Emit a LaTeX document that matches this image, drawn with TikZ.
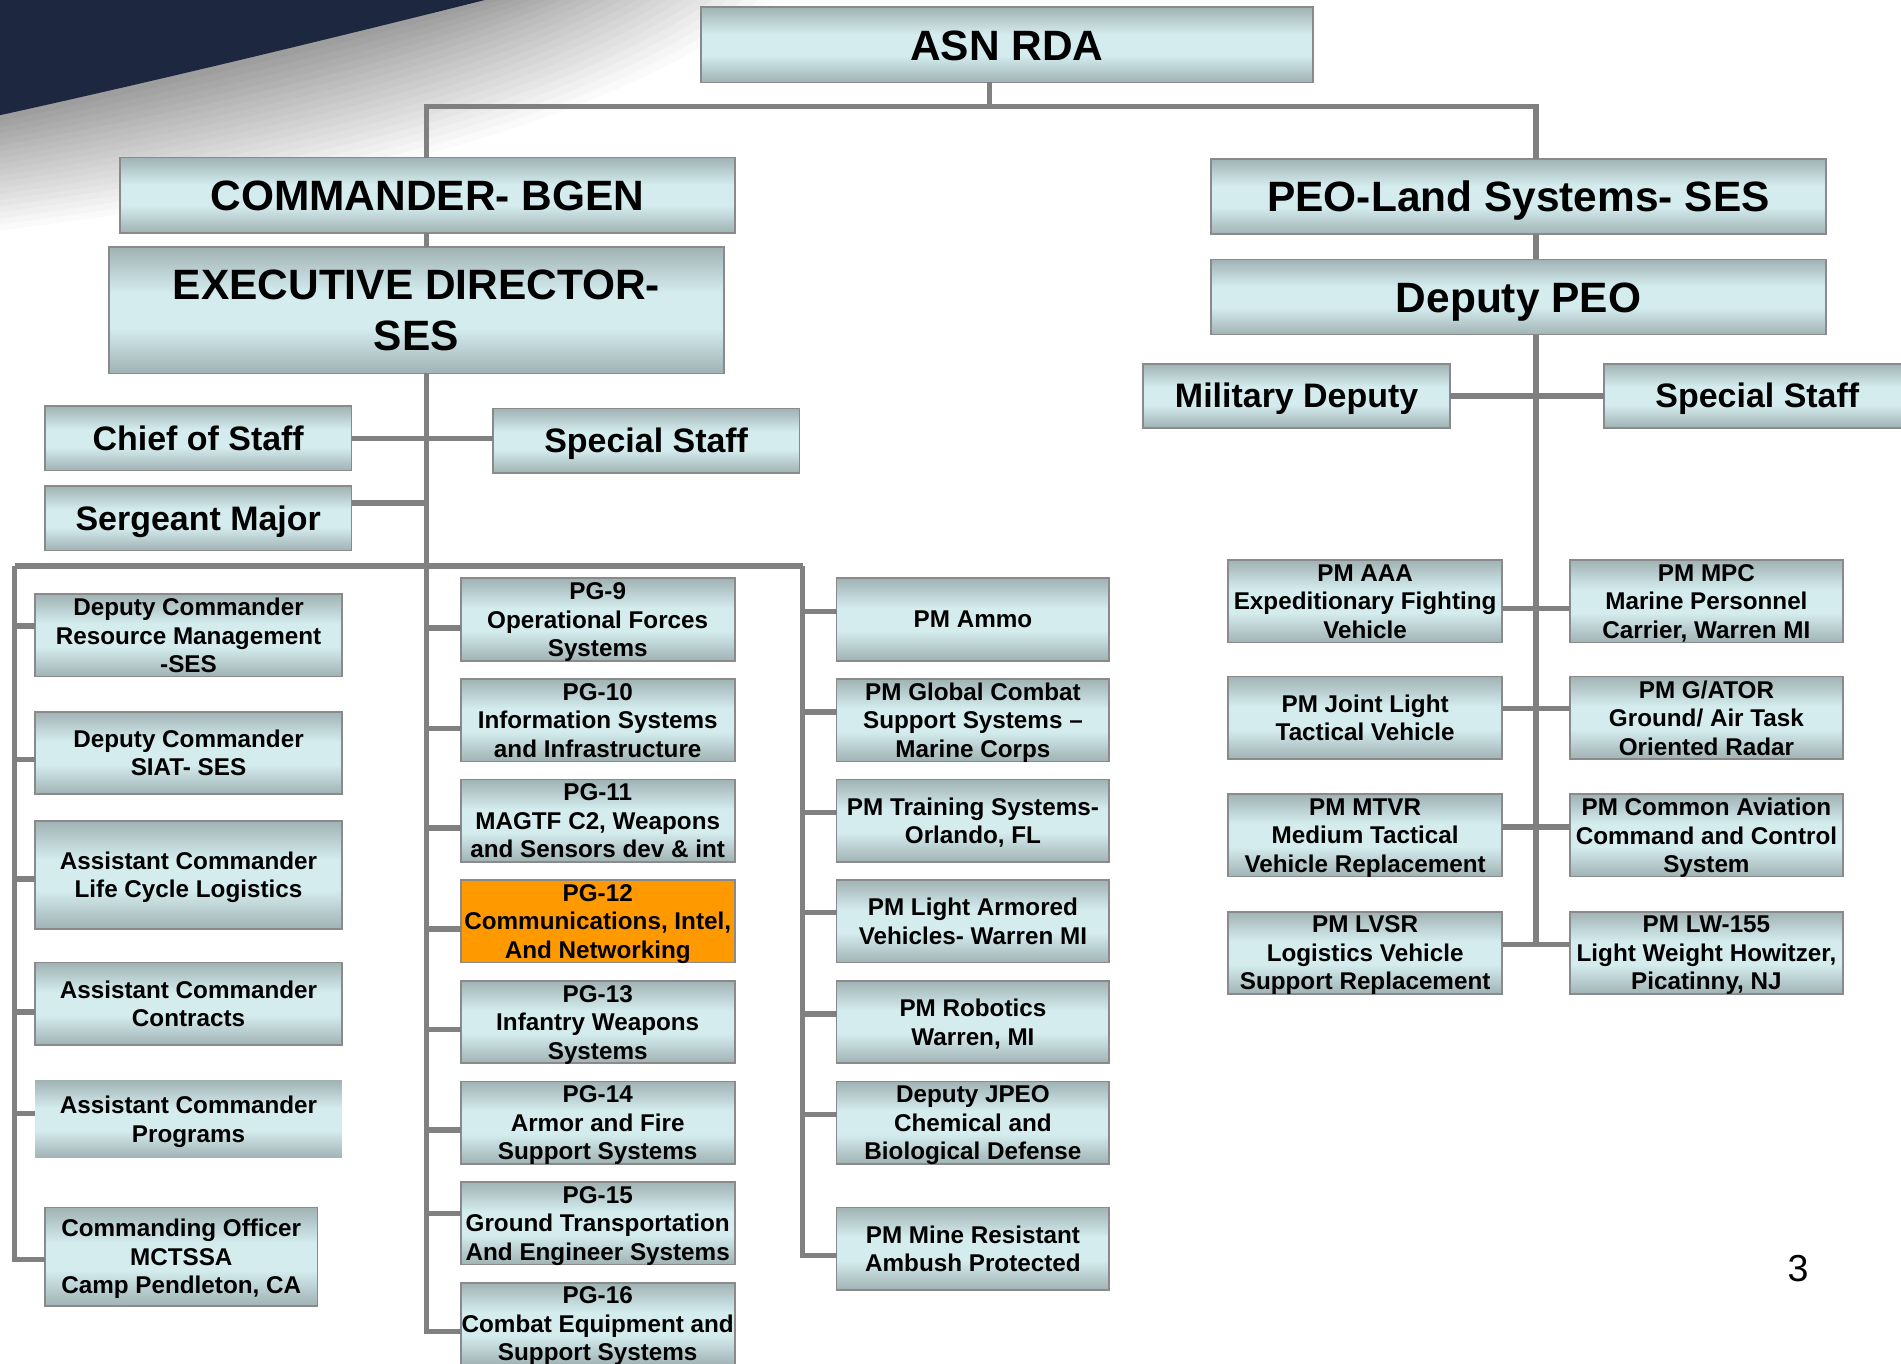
\documentclass[tikz,border=0pt]{standalone}
\usepackage{fontspec}
\setmainfont{Liberation Sans}
\usetikzlibrary{calc}

\definecolor{boxline}{RGB}{138,138,138}
\definecolor{boxedge}{RGB}{160,178,180}
\definecolor{boxmid}{RGB}{212,236,238}
\definecolor{linkgray}{RGB}{128,128,128}
\definecolor{pgorange}{RGB}{255,153,0}
\definecolor{navy}{RGB}{29,40,64}

\pgfdeclareverticalshading{boxshade}{100bp}{color(0bp)=(boxedge); color(25bp)=(boxedge); color(43bp)=(boxmid); color(57bp)=(boxmid); color(75bp)=(boxedge); color(100bp)=(boxedge)}

\newcommand\titlefont{\bfseries\fontsize{35}{42}\selectfont}
\newcommand\staffont{\bfseries\fontsize{28}{33}\selectfont}
\newcommand\unitfont{\bfseries\fontsize{20}{23.5}\selectfont}
% last line of a box: no depth, so the lines sit as in the chart
\newcommand\dropdepth[1]{\raisebox{0pt}[\height][0pt]{#1}}

\tikzset{
  orgbox/.style={draw=boxline, line width=1.4pt, align=center, inner sep=0pt, outer sep=0pt},
  tealbox/.style={orgbox, shade, shading=boxshade},
  titlebox/.style={tealbox, minimum width=507pt, minimum height=62pt, font=\titlefont, text height=25pt, text depth=0pt},
  staffbox/.style={tealbox, minimum width=253pt, minimum height=53pt, font=\staffont, text height=20pt, text depth=0pt},
  unitbox/.style={tealbox, minimum width=226pt, minimum height=68pt, font=\unitfont},
  sidebox/.style={unitbox, minimum width=253pt},
  hotbox/.style={orgbox, fill=pgorange, minimum width=226pt, minimum height=68pt, font=\unitfont},
  link/.style={draw=linkgray, line width=4.5pt}
}

\begin{document}
\begin{tikzpicture}[x=1pt, y=-1pt]
        \useasboundingbox (0,0) rectangle (1568,1125);
        \fill[white] (0,0) rectangle (1568,1125);

        % swoosh in the corner
        \foreach \off [evaluate=\off as \gr using {40*(1-\off/100)}] in {100,95,...,0}
            \fill[black!\gr] (0,0) -- ({400+2.5*\off},0) .. controls ({300+2*\off},{25+0.9*\off}) and ({150+1.2*\off},{62+\off}) .. (0,{95+\off}) -- cycle;
        \fill[navy] (0,0) -- (400,0) .. controls (300,25) and (150,62) .. (0,95) -- cycle;

        % top of the chart
        \node[titlebox, minimum width=505pt] (asn) at (830.5,37) {ASN RDA};
        \node[titlebox] (cmd) at (352.5,161) {COMMANDER- BGEN};
        \node[tealbox, minimum width=507pt, minimum height=104pt, font=\titlefont] (exec) at (343.5,256) {EXECUTIVE DIRECTOR-\\SES};
        \node[titlebox] (peo) at (1252.5,162) {PEO-Land Systems- SES};
        \node[titlebox] (dpeo) at (1252.5,245) {Deputy PEO};

        \node[staffbox] (chief) at (163.5,361.5) {Chief of Staff};
        \node[staffbox] (spstaffL) at (533,363.5) {Special Staff};
        \node[staffbox] (sgt) at (163.5,427.5) {Sergeant Major};
        \node[staffbox] (mildep) at (1069.5,326.5) {Military Deputy};
        \node[staffbox] (spstaffR) at (1449.5,326.5) {Special Staff};

        % left column
        \node[sidebox] (dcrm) at (155.5,524) {Deputy Commander\\Resource Management\\\dropdepth{-SES}};
        \node[sidebox] (dcsiat) at (155.5,621) {Deputy Commander\\\dropdepth{SIAT- SES}};
        \node[sidebox, minimum height=89pt] (aclcl) at (155.5,721.5) {Assistant Commander\\\dropdepth{Life Cycle Logistics}};
        \node[sidebox] (accon) at (155.5,828) {Assistant Commander\\\dropdepth{Contracts}};
        \node[sidebox, draw=none, minimum height=64pt] (acprog) at (155.5,923) {Assistant Commander\\\dropdepth{Programs}};
        \node[sidebox, minimum width=225pt, minimum height=81pt] (comoff) at (149.5,1036.5) {Commanding Officer\\MCTSSA\\\dropdepth{Camp Pendleton, CA}};

        % program groups
        \node[unitbox] (pg9) at (493,511) {PG-9\\Operational Forces\\\dropdepth{Systems}};
        \node[unitbox] (pg10) at (493,594) {PG-10\\Information Systems\\\dropdepth{and Infrastructure}};
        \node[unitbox] (pg11) at (493,677) {PG-11\\MAGTF C2, Weapons\\\dropdepth{and Sensors dev \& int}};
        \node[hotbox] (pg12) at (493,760) {PG-12\\Communications, Intel,\\\dropdepth{And Networking}};
        \node[unitbox] (pg13) at (493,843) {PG-13\\Infantry Weapons\\\dropdepth{Systems}};
        \node[unitbox] (pg14) at (493,926) {PG-14\\Armor and Fire\\\dropdepth{Support Systems}};
        \node[unitbox] (pg15) at (493,1009) {PG-15\\Ground Transportation\\\dropdepth{And Engineer Systems}};
        \node[unitbox] (pg16) at (493,1092) {PG-16\\Combat Equipment and\\\dropdepth{Support Systems}};

        % program managers
        \node[unitbox, minimum width=225pt] (pmammo) at (802.5,511) {PM Ammo};
        \node[unitbox, minimum width=225pt] (pmgcss) at (802.5,594) {PM Global Combat\\Support Systems --\\\dropdepth{Marine Corps}};
        \node[unitbox, minimum width=225pt] (pmtrain) at (802.5,677) {PM Training Systems-\\\dropdepth{Orlando, FL}};
        \node[unitbox, minimum width=225pt] (pmlav) at (802.5,760) {PM Light Armored\\\dropdepth{Vehicles- Warren MI}};
        \node[unitbox, minimum width=225pt] (pmrob) at (802.5,843) {PM Robotics\\\dropdepth{Warren, MI}};
        \node[unitbox, minimum width=225pt] (jpeo) at (802.5,926) {Deputy JPEO\\Chemical and\\\dropdepth{Biological Defense}};
        \node[unitbox, minimum width=225pt] (mrap) at (802.5,1030) {PM Mine Resistant\\\dropdepth{Ambush Protected}};

        % PEO land systems
        \node[unitbox] (pmaaa) at (1126,496) {PM AAA\\Expeditionary Fighting\\\dropdepth{Vehicle}};
        \node[unitbox, minimum width=225pt] (pmmpc) at (1407.5,496) {PM MPC\\Marine Personnel\\\dropdepth{Carrier, Warren MI}};
        \node[unitbox] (jltv) at (1126,592) {PM Joint Light\\\dropdepth{Tactical Vehicle}};
        \node[unitbox, minimum width=225pt] (gator) at (1407.5,592) {PM G/ATOR\\Ground/ Air Task\\\dropdepth{Oriented Radar}};
        \node[unitbox] (mtvr) at (1126,689) {PM MTVR\\Medium Tactical\\\dropdepth{Vehicle Replacement}};
        \node[unitbox, minimum width=225pt] (cactwo) at (1407.5,689) {PM Common Aviation\\Command and Control\\\dropdepth{System}};
        \node[unitbox] (lvsr) at (1126,786) {PM LVSR\\Logistics Vehicle\\\dropdepth{Support Replacement}};
        \node[unitbox, minimum width=225pt] (lwgun) at (1407.5,786) {PM LW-155\\Light Weight Howitzer,\\\dropdepth{Picatinny, NJ}};

        \node[font=\fontsize{31}{36}\selectfont] (pagenum) at (1483,1046) {3};

        % connectors
        \coordinate (asnc) at (816,88);
        \coordinate (ltop) at (352,88);
        \coordinate (rtop) at (1267,88);
        \coordinate (lbot) at (352,1098);
        \coordinate (rbot) at (1267,779);
        \coordinate (lbus) at (12,467);
        \coordinate (mbus) at (662,467);
        \coordinate (sgtc) at ($(sgt.north east)!.26!(sgt.south east)$);

        \draw[link] (asnc) -- (asn.south -| asnc);
        \draw[link] (cmd.north -| ltop) -- (ltop) -- (rtop) -- (peo.north -| rtop);
        \draw[link] (cmd.south -| ltop) -- (exec.north -| ltop);
        \draw[link] (exec.south -| ltop) -- (lbot);
        \draw[link] (peo.south -| rtop) -- (dpeo.north -| rtop);
        \draw[link] (dpeo.south -| rtop) -- (rbot);

        \draw[link] (chief.east) -- (chief.east -| spstaffL.west);
        \draw[link] (sgtc) -- (sgtc -| ltop);
        \draw[link] (mildep.east) -- (spstaffR.west);

        \draw[link] (lbus) -- (mbus);
        \draw[link] (lbus) |- ($(dcrm.north west)!.39!(dcrm.south west)$);
        \draw[link] (lbus) |- ($(dcsiat.north west)!.58!(dcsiat.south west)$);
        \draw[link] (lbus) |- ($(aclcl.north west)!.54!(aclcl.south west)$);
        \draw[link] (lbus) |- ($(accon.north west)!.6!(accon.south west)$);
        \draw[link] (lbus) |- ($(acprog.north west)!.43!(acprog.south west)$);
        \draw[link] (lbus) |- ($(comoff.north west)!.53!(comoff.south west)$);

        \draw[link] (lbot) |- ($(pg9.north west)!.6!(pg9.south west)$);
        \draw[link] (lbot) |- ($(pg10.north west)!.6!(pg10.south west)$);
        \draw[link] (lbot) |- ($(pg11.north west)!.59!(pg11.south west)$);
        \draw[link] (lbot) |- ($(pg12.north west)!.59!(pg12.south west)$);
        \draw[link] (lbot) |- ($(pg13.north west)!.59!(pg13.south west)$);
        \draw[link] (lbot) |- ($(pg14.north west)!.59!(pg14.south west)$);
        \draw[link] (lbot) |- ($(pg15.north west)!.38!(pg15.south west)$);
        \draw[link] (lbot) |- ($(pg16.north west)!.59!(pg16.south west)$);

        \draw[link] (mbus) |- ($(pmammo.north west)!.4!(pmammo.south west)$);
        \draw[link] (mbus) |- ($(pmgcss.north west)!.4!(pmgcss.south west)$);
        \draw[link] (mbus) |- ($(pmtrain.north west)!.4!(pmtrain.south west)$);
        \draw[link] (mbus) |- ($(pmlav.north west)!.39!(pmlav.south west)$);
        \draw[link] (mbus) |- ($(pmrob.north west)!.4!(pmrob.south west)$);
        \draw[link] (mbus) |- ($(jpeo.north west)!.4!(jpeo.south west)$);
        \draw[link] (mbus) |- ($(mrap.north west)!.58!(mrap.south west)$);

        \draw[link] ($(pmaaa.north east)!.59!(pmaaa.south east)$) -- ($(pmmpc.north west)!.59!(pmmpc.south west)$);
        \draw[link] ($(jltv.north east)!.39!(jltv.south east)$) -- ($(gator.north west)!.39!(gator.south west)$);
        \draw[link] ($(mtvr.north east)!.4!(mtvr.south east)$) -- ($(cactwo.north west)!.4!(cactwo.south west)$);
        \draw[link] ($(lvsr.north east)!.4!(lvsr.south east)$) -- ($(lwgun.north west)!.4!(lwgun.south west)$);
\end{tikzpicture}
\end{document}
